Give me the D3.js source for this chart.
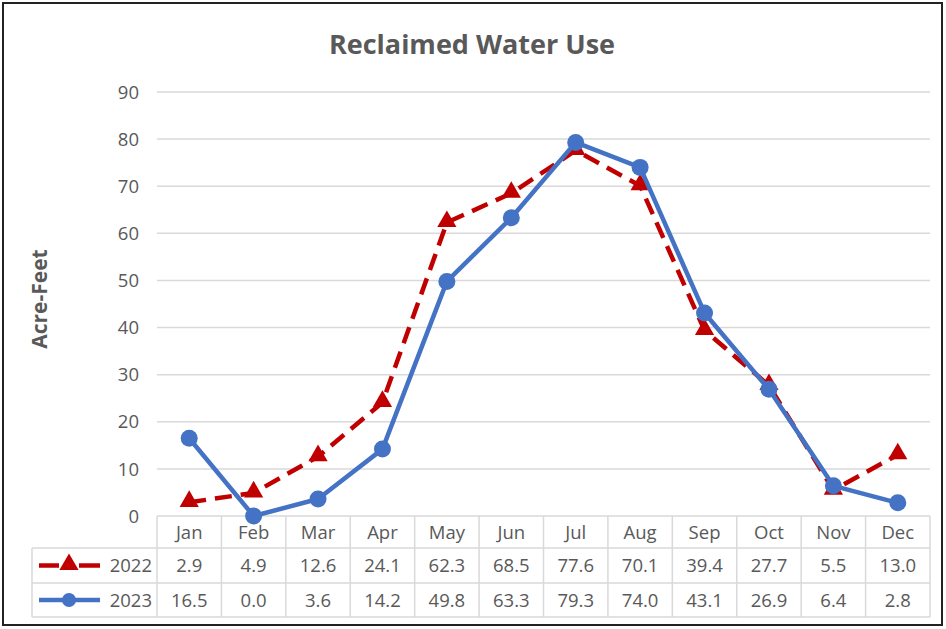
<!DOCTYPE html>
<html>
<head>
<meta charset="utf-8">
<script src="https://cdn.jsdelivr.net/npm/d3@7"></script>
<style>
  body { margin: 0; background: #fff; }
  svg { display: block; font-family: "Open Sans", Lato, sans-serif; }
</style>
</head>
<body>
<svg id="chart" width="946" height="629"></svg>
<script>
// data
const months = ['Jan', 'Feb', 'Mar', 'Apr', 'May', 'Jun', 'Jul', 'Aug', 'Sep', 'Oct', 'Nov', 'Dec'];
const years = ['2022', '2023'];
const use2022 = [2.9, 4.9, 12.6, 24.1, 62.3, 68.5, 77.6, 70.1, 39.4, 27.7, 5.5, 13.0];
const use2023 = [16.5, 0.0, 3.6, 14.2, 49.8, 63.3, 79.3, 74.0, 43.1, 26.9, 6.4, 2.8];
const yTicks = [0, 10, 20, 30, 40, 50, 60, 70, 80, 90];

const svg = d3.select('#chart');
const textColor = '#595959';
const gridColor = '#d9d9d9';
const fs = '18.5px';

// outer frame
svg.append('rect')
  .attr('x', 3).attr('y', 3)
  .attr('width', 939).attr('height', 622)
  .attr('fill', 'none')
  .attr('stroke', '#222')
  .attr('stroke-width', 2);

let x = d3.scaleBand().domain(months).range([157, 930]);
let y = d3.scaleLinear().domain([0, 90]).range([516, 92]);

// gridlines
svg.append('g').selectAll('line')
  .data(yTicks.slice(1))
  .join('line')
  .attr('x1', 157).attr('x2', 930)
  .attr('y1', d => y(d)).attr('y2', d => y(d))
  .attr('stroke', gridColor)
  .attr('stroke-width', 1.5);

// y tick labels
svg.append('g').selectAll('text')
  .data(yTicks)
  .join('text')
  .attr('x', 139)
  .attr('y', d => y(d))
  .attr('dy', '0.36em')
  .attr('text-anchor', 'end')
  .attr('fill', textColor)
  .style('font-size', fs)
  .text(d => d);

// title
svg.append('text')
  .attr('x', 472).attr('y', 54)
  .attr('text-anchor', 'middle')
  .attr('fill', textColor)
  .style('font-size', '27px')
  .style('font-weight', 'bold')
  .text('Reclaimed Water Use');

svg.append('text')
  .attr('transform', 'translate(47,299)rotate(-90)')
  .attr('text-anchor', 'middle')
  .attr('fill', textColor)
  .style('font-size', '21px')
  .style('font-weight', 'bold')
  .text('Acre-Feet');

// data table
const rowTop = [516, 548, 583, 617];
let table = svg.append('g').attr('stroke', gridColor).attr('stroke-width', 1.5);
table.append('line').attr('x1', 157).attr('x2', 930).attr('y1', rowTop[0]).attr('y2', rowTop[0]);
rowTop.slice(1).forEach(ry => {
  table.append('line').attr('x1', 32).attr('x2', 930).attr('y1', ry).attr('y2', ry);
});
months.forEach(m => {
  table.append('line').attr('x1', x(m)).attr('x2', x(m)).attr('y1', rowTop[0]).attr('y2', rowTop[3]);
});
table.append('line').attr('x1', 930).attr('x2', 930).attr('y1', rowTop[0]).attr('y2', rowTop[3]);
table.append('line').attr('x1', 32).attr('x2', 32).attr('y1', rowTop[1]).attr('y2', rowTop[3]);

svg.append('g').selectAll('text')
  .data(months)
  .join('text')
  .attr('x', d => x(d) + x.bandwidth() / 2)
  .attr('y', (rowTop[0] + rowTop[1]) / 2)
  .attr('dy', '0.36em')
  .attr('text-anchor', 'middle')
  .attr('fill', textColor)
  .style('font-size', fs)
  .text(d => d);

const series = [
  { name: years[0], values: use2022, color: '#c00000', dash: '17,9', marker: 'triangle' },
  { name: years[1], values: use2023, color: '#4472c4', dash: null, marker: 'circle' }
];

const tri = d3.symbol().type(d3.symbolTriangle).size(160);

series.forEach((s, i) => {
  let cy = (rowTop[i + 1] + rowTop[i + 2]) / 2;
  svg.append('g').selectAll('text')
    .data(s.values)
    .join('text')
    .attr('x', (d, j) => x(months[j]) + x.bandwidth() / 2)
    .attr('y', cy)
    .attr('dy', '0.36em')
    .attr('text-anchor', 'middle')
    .attr('fill', textColor)
    .style('font-size', fs)
    .text(d => d.toFixed(1));

  // legend key
  let key = svg.append('g').attr('stroke', s.color).attr('stroke-width', 4.5);
  if (s.dash) {
    key.append('line').attr('x1', 39).attr('x2', 59).attr('y1', cy).attr('y2', cy);
    key.append('line').attr('x1', 79).attr('x2', 100).attr('y1', cy).attr('y2', cy);
    svg.append('path').attr('d', tri).attr('transform', `translate(69,${cy - 1})`).attr('fill', s.color);
  } else {
    key.append('line').attr('x1', 39).attr('x2', 100).attr('y1', cy).attr('y2', cy);
    svg.append('circle').attr('cx', 69).attr('cy', cy).attr('r', 7).attr('fill', s.color);
  }
  svg.append('text')
    .attr('x', 152).attr('y', cy)
    .attr('dy', '0.36em')
    .attr('text-anchor', 'end')
    .attr('fill', textColor)
    .style('font-size', fs)
    .text(s.name);
});

// lines
let lineFn = d3.line()
  .x((d, j) => x(months[j]) + x.bandwidth() / 2)
  .y(d => y(d));

series.forEach(s => {
  svg.append('path')
    .attr('d', lineFn(s.values))
    .attr('fill', 'none')
    .attr('stroke', s.color)
    .attr('stroke-width', 4.5)
    .attr('stroke-linejoin', 'round')
    .attr('stroke-dasharray', s.dash);
  let g = svg.append('g');
  if (s.marker == 'triangle') {
    g.selectAll('path')
      .data(s.values)
      .join('path')
      .attr('d', tri)
      .attr('transform', (d, j) => `translate(${x(months[j]) + x.bandwidth() / 2},${y(d) - 1})`)
      .attr('fill', s.color);
  } else {
    g.selectAll('circle')
      .data(s.values)
      .join('circle')
      .attr('cx', (d, j) => x(months[j]) + x.bandwidth() / 2)
      .attr('cy', d => y(d))
      .attr('r', 8.5)
      .attr('fill', s.color);
  }
});
</script>
</body>
</html>
